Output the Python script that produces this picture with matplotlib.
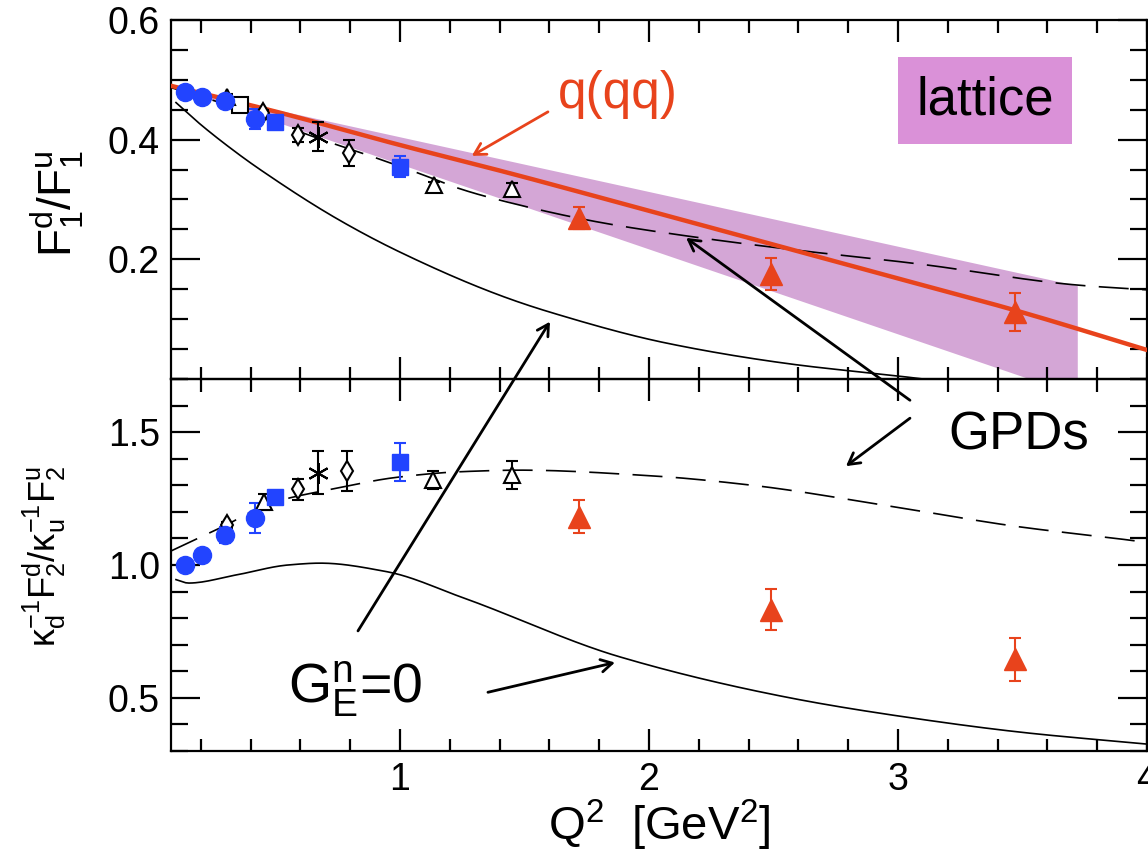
import matplotlib
matplotlib.use("Agg")
import numpy as np
import matplotlib.pyplot as plt
from matplotlib.ticker import MultipleLocator, FixedLocator, FormatStrFormatter

plt.rcParams['font.family'] = ['Liberation Sans', 'DejaVu Sans']
plt.rcParams['mathtext.fontset'] = 'custom'
plt.rcParams['mathtext.rm'] = 'Liberation Sans'
plt.rcParams['mathtext.it'] = 'Liberation Sans'
plt.rcParams['mathtext.bf'] = 'Liberation Sans:bold'
plt.rcParams['mathtext.sf'] = 'Liberation Sans'

RED = '#e8431c'
BLUE = '#2244ff'
BAND = '#d4a6d6'
BOX = '#da91d8'

# ---------------- data ----------------
blue_circ_x = [0.137, 0.205, 0.297, 0.418]
blue_circ_top = [0.480, 0.472, 0.464, 0.434]
blue_circ_top_err = [0.004, 0.004, 0.006, 0.017]
blue_circ_bot = [1.001, 1.038, 1.113, 1.176]
blue_circ_bot_err = [0.01, 0.01, 0.03, 0.057]

blue_sq_x = [0.498, 1.0]
blue_sq_top = [0.430, 0.355]
blue_sq_top_err = [0.008, 0.018]
blue_sq_bot = [1.257, 1.389]
blue_sq_bot_err = [0.01, 0.072]

open_sq_x = [0.357]
open_sq_top = [0.458]

open_tri_top_x = [0.304, 1.137, 1.449]
open_tri_top = [0.471, 0.324, 0.318]
open_tri_top_err = [0.005, 0.005, 0.01]
open_tri_bot_x = [0.454, 1.134, 1.449]
open_tri_bot = [1.238, 1.320, 1.339]
open_tri_bot_err = [0.03, 0.034, 0.054]

open_dia_top_x = [0.45, 0.589, 0.795]
open_dia_top = [0.445, 0.408, 0.378]
open_dia_top_err = [0.005, 0.012, 0.022]
open_dia_bot_x = [0.304, 0.589, 0.788]
open_dia_bot = [1.151, 1.285, 1.354]
open_dia_bot_err = [0.01, 0.04, 0.075]

star_x = [0.672]
star_top = [0.405]
star_top_err = [0.024]
star_bot = [1.347]
star_bot_err = [0.081]

red_tri_x = [1.72, 2.49, 3.47]
red_tri_top = [0.269, 0.175, 0.1125]
red_tri_top_err = [0.019, 0.027, 0.032]
red_tri_bot = [1.181, 0.832, 0.645]
red_tri_bot_err = [0.062, 0.078, 0.08]

# curves
qqq_x = [0.08, 0.5, 1.0, 1.44, 2.0, 2.6, 3.0, 3.49, 4.0]
qqq_y = [0.490, 0.447, 0.391, 0.344, 0.281, 0.213, 0.168, 0.1125, 0.0485]

lat_x = [0.10, 3.72]
lat_hi = [0.487, 0.156]
lat_lo = [0.487, -0.027]

gpd_top_x = [0.08, 0.2, 0.35, 0.5, 0.7, 0.9, 1.1, 1.24, 1.4, 1.8, 2.17, 2.6, 3.07, 3.72, 4.0]
gpd_top_y = [0.487, 0.472, 0.452, 0.428, 0.398, 0.370, 0.340, 0.318, 0.299, 0.262, 0.238, 0.215, 0.193, 0.157, 0.149]

gen0_top_x = [0.10, 0.2, 0.344, 0.438, 0.746, 1.0, 1.4, 1.6, 2.07, 2.57, 3.0, 3.2]
gen0_top_y = [0.462, 0.425, 0.378, 0.350, 0.268, 0.212, 0.140, 0.112, 0.060, 0.025, 0.005, -0.005]

gpd_bot_x = [0.076, 0.29, 0.478, 0.746, 0.987, 1.241, 1.482, 2.004, 2.406, 2.94, 3.477, 3.918, 4.0]
gpd_bot_y = [1.051, 1.145, 1.232, 1.289, 1.330, 1.351, 1.357, 1.336, 1.301, 1.226, 1.145, 1.095, 1.085]

gen0_bot_x = [0.10, 0.15, 0.344, 0.55, 0.68, 0.946, 1.255, 1.88, 2.566, 3.0, 3.5, 4.0]
gen0_bot_y = [0.945, 0.932, 0.963, 1.000, 1.007, 0.975, 0.876, 0.655, 0.500, 0.432, 0.370, 0.326]

x_ticks = [1, 2, 3, 4]
top_ticks = [0.2, 0.4, 0.6]
bot_ticks = [0.5, 1.0, 1.5]


def smooth(xs, ys, n=300):
    """Monotone cubic (PCHIP) rendering through the read points."""
    x = np.asarray(xs, float)
    y = np.asarray(ys, float)
    h = np.diff(x)
    d = np.diff(y) / h
    m = np.zeros_like(y)
    m[0], m[-1] = d[0], d[-1]
    for i in range(1, len(x) - 1):
        if d[i - 1] * d[i] > 0:
            w1 = 2 * h[i] + h[i - 1]
            w2 = h[i] + 2 * h[i - 1]
            m[i] = (w1 + w2) / (w1 / d[i - 1] + w2 / d[i])
    xx = np.linspace(x[0], x[-1], n)
    k = np.clip(np.searchsorted(x, xx) - 1, 0, len(x) - 2)
    t = (xx - x[k]) / h[k]
    h00 = 2 * t**3 - 3 * t**2 + 1
    h10 = t**3 - 2 * t**2 + t
    h01 = -2 * t**3 + 3 * t**2
    h11 = t**3 - t**2
    yy = h00 * y[k] + h10 * h[k] * m[k] + h01 * y[k + 1] + h11 * h[k] * m[k + 1]
    return xx, yy


# ---------------- figure ----------------
fig = plt.figure(figsize=(11.48, 8.58), dpi=100)
L, R = 171 / 1148, 1147 / 1148
y_top, y_mid, y_bot = 1 - 20 / 858, 1 - 379 / 858, 1 - 751 / 858
ax1 = fig.add_axes([L, y_mid, R - L, y_top - y_mid])
ax2 = fig.add_axes([L, y_bot, R - L, y_mid - y_bot], sharex=ax1)
ax2.patch.set_visible(False)

for ax in (ax1, ax2):
    ax.set_xlim(0.08, 4.0)
    ax.xaxis.set_major_locator(FixedLocator(x_ticks))
    ax.xaxis.set_minor_locator(MultipleLocator(0.2))
    ax.tick_params(which='both', direction='in', top=True, right=True, width=1.6,
                   labelsize=27, pad=8)
    ax.tick_params(axis='y', which='major', length=21)
    ax.tick_params(axis='y', which='minor', length=12)
    ax.tick_params(axis='x', which='major', length=16)
    ax.tick_params(axis='x', which='minor', length=9)
    for s in ax.spines.values():
        s.set_linewidth(1.6)

ax1.set_ylim(0.0, 0.6)
ax1.yaxis.set_major_locator(FixedLocator(top_ticks))
ax1.yaxis.set_minor_locator(MultipleLocator(0.05))
ax1.yaxis.set_major_formatter(FormatStrFormatter('%.1f'))
ax1.tick_params(axis='x', labelbottom=False)

ax2.set_ylim(0.3, 1.7)
ax2.yaxis.set_major_locator(FixedLocator(bot_ticks))
ax2.yaxis.set_minor_locator(MultipleLocator(0.1))
ax2.yaxis.set_major_formatter(FormatStrFormatter('%.1f'))
ax2.xaxis.set_major_formatter(FormatStrFormatter('%d'))

# top panel
ax1.fill_between(lat_x, lat_lo, lat_hi, color=BAND, lw=0, zorder=1)
ax1.plot(*smooth(gen0_top_x, gen0_top_y), color='black', lw=1.2, zorder=2)
ax1.plot(*smooth(gpd_top_x, gpd_top_y), color='black', lw=1.2, ls=(0, (18, 8)), zorder=2)
ax1.plot(*smooth(qqq_x, qqq_y), color=RED, lw=3.2, zorder=3)

ekw = dict(ls='none', capsize=4, elinewidth=1.5, capthick=1.5, zorder=5)
ax1.errorbar(open_sq_x, open_sq_top, marker='s', ms=12, mfc='white', mec='black', mew=1.5, color='black', **ekw)
ax1.errorbar(open_tri_top_x, open_tri_top, yerr=open_tri_top_err, marker='^', ms=12, mfc='white', mec='black', mew=1.5, color='black', **ekw)
ax1.errorbar(open_dia_top_x, open_dia_top, yerr=open_dia_top_err, marker='d', ms=10, mfc='white', mec='black', mew=1.5, color='black', **ekw)
ax1.errorbar(star_x, star_top, yerr=star_top_err, marker=(6, 2, 0), ms=15, mec='black', mew=1.5, color='black', **ekw)
ax1.errorbar(blue_circ_x, blue_circ_top, yerr=blue_circ_top_err, marker='o', ms=13, color=BLUE, **ekw)
ax1.errorbar(blue_sq_x, blue_sq_top, yerr=blue_sq_top_err, marker='s', ms=12, color=BLUE, **ekw)
ax1.errorbar(red_tri_x, red_tri_top, yerr=red_tri_top_err, marker='^', ms=16, color=RED, **ekw)

# bottom panel
ax2.plot(*smooth(gen0_bot_x, gen0_bot_y), color='black', lw=1.2, zorder=2)
ax2.plot(*smooth(gpd_bot_x, gpd_bot_y), color='black', lw=1.2, ls=(0, (18, 8)), zorder=2)
ax2.errorbar(open_tri_bot_x, open_tri_bot, yerr=open_tri_bot_err, marker='^', ms=12, mfc='white', mec='black', mew=1.5, color='black', **ekw)
ax2.errorbar(open_dia_bot_x, open_dia_bot, yerr=open_dia_bot_err, marker='d', ms=10, mfc='white', mec='black', mew=1.5, color='black', **ekw)
ax2.errorbar(star_x, star_bot, yerr=star_bot_err, marker=(6, 2, 0), ms=15, mec='black', mew=1.5, color='black', **ekw)
ax2.errorbar(blue_circ_x, blue_circ_bot, yerr=blue_circ_bot_err, marker='o', ms=13, color=BLUE, **ekw)
ax2.errorbar(blue_sq_x, blue_sq_bot, yerr=blue_sq_bot_err, marker='s', ms=12, color=BLUE, **ekw)
ax2.errorbar(red_tri_x, red_tri_bot, yerr=red_tri_bot_err, marker='^', ms=16, color=RED, **ekw)

# labels
ax2.set_xlabel(r'Q$^2$  [GeV$^2$]', fontsize=34, labelpad=0)
fig.text(57 / 1148, 1 - 203 / 858, r'F$_1^\mathrm{d}$/F$_1^\mathrm{u}$',
         rotation=90, fontsize=33, ha='center', va='center')
fig.text(44 / 1148, 1 - 556 / 858,
         r'$\mathrm{\kappa}_\mathrm{d}^{-1}$F$_2^\mathrm{d}$/$\mathrm{\kappa}_\mathrm{u}^{-1}$F$_2^\mathrm{u}$',
         rotation=90, fontsize=26, ha='center', va='center')

# lattice box
ax1.text(3.349, 0.465, 'lattice', fontsize=38, ha='center', va='center', zorder=6,
         bbox=dict(boxstyle='square,pad=0.35', fc=BOX, ec='none'))

# annotations
akw = dict(arrowstyle='->,head_length=0.8,head_width=0.45', lw=2.0, color='black',
           shrinkA=0, shrinkB=0)
ax1.annotate('', xy=(1.288, 0.373), xytext=(1.594, 0.4465),
             arrowprops=dict(akw, color=RED), annotation_clip=False)
ax1.text(1.876, 0.475, 'q(qq)', color=RED, fontsize=37, ha='center', va='center')

ax1.annotate('', xy=(2.149, 0.2358), xycoords=ax1.transData,
             xytext=(3.048, 1.62), textcoords=ax2.transData,
             arrowprops=akw, annotation_clip=False, zorder=10)
ax2.annotate('', xy=(2.791, 1.372), xytext=(3.048, 1.5525),
             arrowprops=akw, annotation_clip=False)
ax2.text(3.486, 1.489, 'GPDs', fontsize=38, ha='center', va='center')

ax1.annotate('', xy=(1.602, 0.0958), xycoords=ax1.transData,
             xytext=(0.831, 0.752), textcoords=ax2.transData,
             arrowprops=akw, annotation_clip=False, zorder=10)
ax2.annotate('', xy=(1.863, 0.633), xytext=(1.353, 0.521),
             arrowprops=akw, annotation_clip=False)
ax2.text(0.819, 0.532, r'G$_\mathrm{E}^\mathrm{n}$=0', fontsize=40,
         ha='center', va='center')

fig.savefig('out.png', dpi=100)
